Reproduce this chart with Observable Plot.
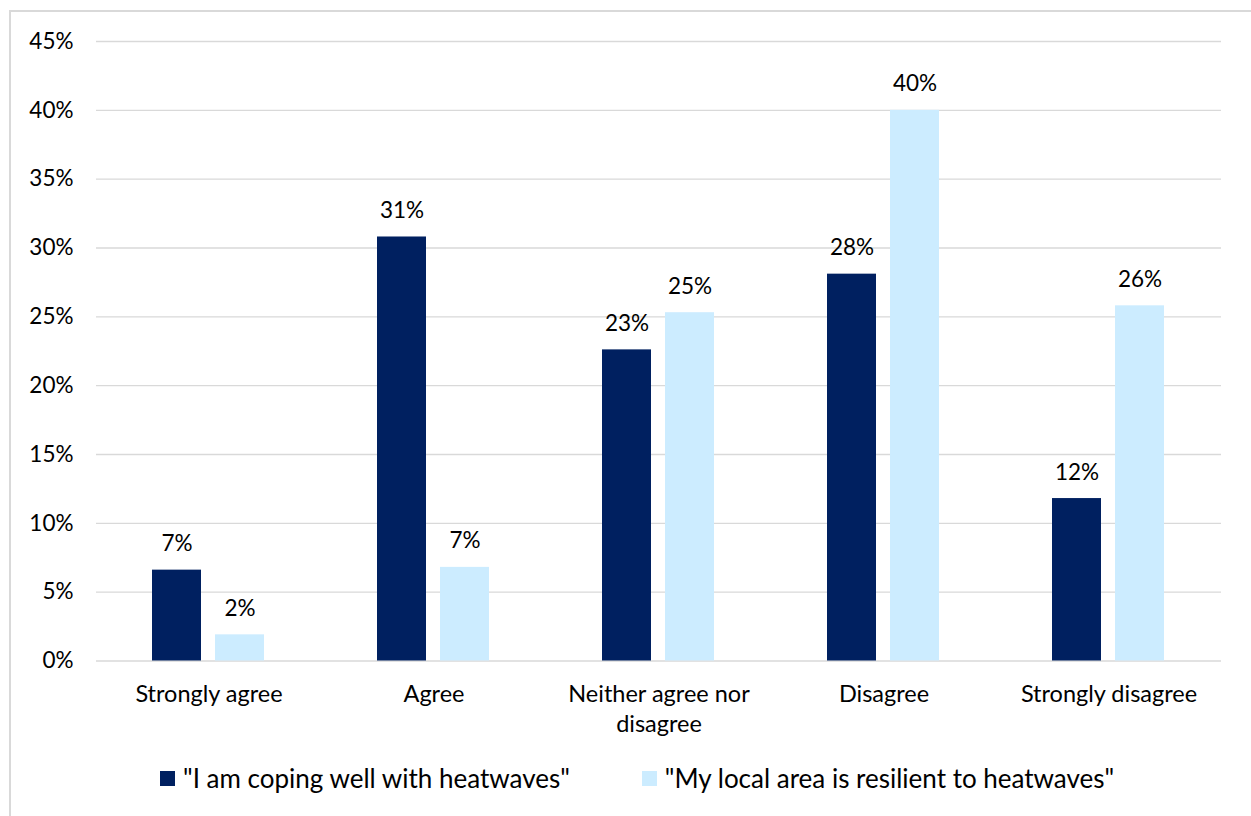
<!DOCTYPE html>
<html>
<head>
<meta charset="utf-8">
<script src="https://cdn.jsdelivr.net/npm/d3@7"></script>
<script src="https://cdn.jsdelivr.net/npm/@observablehq/plot@0.6"></script>
<style>
  body { margin: 0; background: #fff; width: 1251px; height: 816px; overflow: hidden; position: relative; font-family: Lato, "Noto Sans", sans-serif; }
  #frame { position: absolute; left: 9px; top: 10px; width: 1400px; height: 1000px; border: 2px solid #d9d9d9; box-sizing: border-box; }
  #chart { position: absolute; left: 0; top: 0; }
  #legend { position: absolute; top: 762px; left: 160px; display: flex; align-items: center; font-size: 26px; color: #000; white-space: nowrap; }
  #legend .item { display: flex; align-items: center; margin-right: 72px; }
  #legend .sw { width: 15px; height: 15px; margin-right: 8px; display: inline-block; }
</style>
</head>
<body>
<div id="frame"></div>
<div id="chart"></div>
<div id="legend"></div>
<script>
// Survey response categories and their axis labels (wrapped where needed)
const categories = ["Strongly agree", "Agree", "Neither agree nor disagree", "Disagree", "Strongly disagree"];
const categoryLabels = ["Strongly agree", "Agree", "Neither agree nor\ndisagree", "Disagree", "Strongly disagree"];

// The two statements respondents rated
const series = ['"I am coping well with heatwaves"', '"My local area is resilient to heatwaves"'];
const seriesColors = ["#002060", "#CCECFF"];

// Share of respondents (%) per category, one list per statement
const copingValues = [6.6, 30.8, 22.6, 28.1, 11.8];
const resilientValues = [1.9, 6.8, 25.3, 40.0, 25.8];

// Y axis ticks (%)
const yTicks = [0, 5, 10, 15, 20, 25, 30, 35, 40, 45];

const rows = [];
categories.forEach((c, i) => {
  rows.push({category: c, series: series[0], value: copingValues[i]});
  rows.push({category: c, series: series[1], value: resilientValues[i]});
});

const H = 750;
const chart = Plot.plot({
  width: 1251,
  height: H,
  marginLeft: 94,
  marginRight: 29,
  marginTop: 41,
  marginBottom: H - 660.5,
  style: {fontFamily: "Lato, 'Noto Sans', sans-serif", fontSize: "22px", color: "#000", background: "transparent", overflow: "visible"},
  fx: {domain: categories, padding: 0, label: null, axis: null},
  x: {domain: series, paddingInner: 0.22, paddingOuter: 0.87, axis: null},
  y: {domain: [0, 45], label: null},
  color: {domain: series, range: seriesColors},
  marks: [
    Plot.gridY(yTicks, {stroke: "#d9d9d9", strokeOpacity: 1, strokeWidth: 1.3}),
    Plot.axisY(yTicks, {tickSize: 0, tickPadding: 23, tickFormat: d => d + "%", label: null, fontSize: 22.5}),
    Plot.axisFx({anchor: "bottom", tickSize: 0, tickPadding: 20, lineHeight: 1.28, fontSize: 23.5, label: null,
      tickFormat: d => categoryLabels[categories.indexOf(d)]}),
    Plot.barY(rows, {fx: "category", x: "series", y: "value", fill: "series"}),
    Plot.text(rows, {fx: "category", x: "series", y: "value",
      text: d => Math.round(d.value) + "%", lineAnchor: "bottom", dy: -19, fill: "#000", fontSize: 22.5})
  ]
});
document.getElementById("chart").appendChild(chart);

// Legend built from the same series and colours
const legend = document.getElementById("legend");
series.forEach((s, i) => {
  const item = document.createElement("span");
  item.className = "item";
  const sw = document.createElement("span");
  sw.className = "sw";
  sw.style.background = seriesColors[i];
  const label = document.createElement("span");
  label.textContent = s;
  item.appendChild(sw);
  item.appendChild(label);
  legend.appendChild(item);
});
</script>
</body>
</html>
